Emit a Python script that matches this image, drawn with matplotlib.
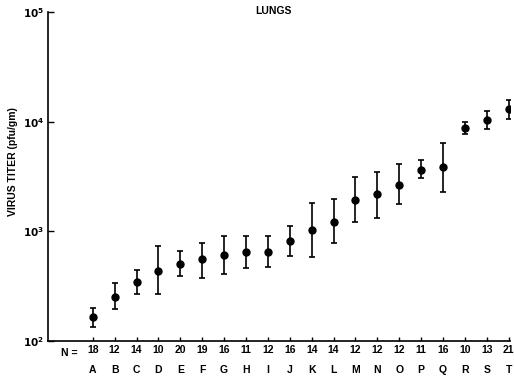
import matplotlib
matplotlib.use("Agg")
import matplotlib.pyplot as plt
import numpy as np
from matplotlib.ticker import FixedLocator, NullLocator

groups = list("ABCDEFGHIJKLMNOPQRST")
n_values = [18, 12, 14, 10, 20, 19, 16, 11, 12, 16, 14, 14, 12, 12, 12, 11, 16, 10, 13, 21]
titer_mean = [164, 253, 343, 437, 507, 556, 608, 644, 644, 811, 1021, 1216, 1941, 2174, 2643,
              3620, 3830, 8750, 10280, 13030]
titer_upper = [200, 340, 441, 730, 665, 778, 912, 906, 900, 1125, 1824, 1967, 3147, 3494, 4083,
               4440, 6426, 9860, 12500, 15730]
titer_lower = [133, 196, 267, 267, 389, 373, 410, 463, 470, 600, 587, 787, 1224, 1330, 1762,
               3041, 2280, 7760, 8610, 10570]

plt.rcParams['font.family'] = ['Liberation Sans', 'DejaVu Sans']
plt.rcParams['font.weight'] = 'bold'

fig = plt.figure(figsize=(5.14, 3.76), dpi=100)
W, H = 514, 376
x0, x1 = 48, 510
y_top, y_bot = 12, 341
ax = fig.add_axes([x0 / W, 1 - y_bot / H, (x1 - x0) / W, (y_bot - y_top) / H])

x = np.arange(len(groups))
mean = np.array(titer_mean)
yerr = np.vstack([mean - np.array(titer_lower), np.array(titer_upper) - mean])
ax.errorbar(x, mean, yerr=yerr, fmt='o', color='black', ms=5, elinewidth=1.2,
            capsize=2.5, capthick=1.2)

ax.set_yscale('log')
ax.set_ylim(100, 100000)
sp = 21.9
ax.set_xlim(-(92.7 - x0) / sp, (x1 - 92.7) / sp)

ax.yaxis.set_major_locator(FixedLocator([1e2, 1e3, 1e4, 1e5]))
ax.yaxis.set_minor_locator(NullLocator())
ax.set_yticklabels([r'$\mathbf{10^2}$', r'$\mathbf{10^3}$', r'$\mathbf{10^4}$', r'$\mathbf{10^5}$'])
ax.tick_params(axis='y', direction='in', length=4, width=1, labelsize=7.5, pad=3)
ax.set_xticks(x)
ax.set_xticklabels([str(n) for n in n_values])
ax.tick_params(axis='x', direction='in', length=3, width=1, labelsize=7.5, pad=3)

for s in ['top', 'right']:
    ax.spines[s].set_visible(False)
for s in ['left', 'bottom']:
    ax.spines[s].set_linewidth(1.2)

trans = ax.get_xaxis_transform()
for xi, g in zip(x, groups):
    ax.text(xi, -0.088, g, transform=trans, ha='center', va='center', fontsize=7.5, fontweight='bold')
ax.text(-1.05, -0.022, 'N =', transform=trans, ha='center', va='top', fontsize=7.5, fontweight='bold')

fig.text(273 / W, 1 - 11 / H, 'LUNGS', ha='center', va='center', fontsize=7.5, fontweight='bold')
fig.text(13 / W, 1 - 162 / H, 'VIRUS TITER (pfu/gm)', ha='center', va='center', rotation=90,
         fontsize=7.5, fontweight='bold')

fig.savefig('out.png', dpi=100)
